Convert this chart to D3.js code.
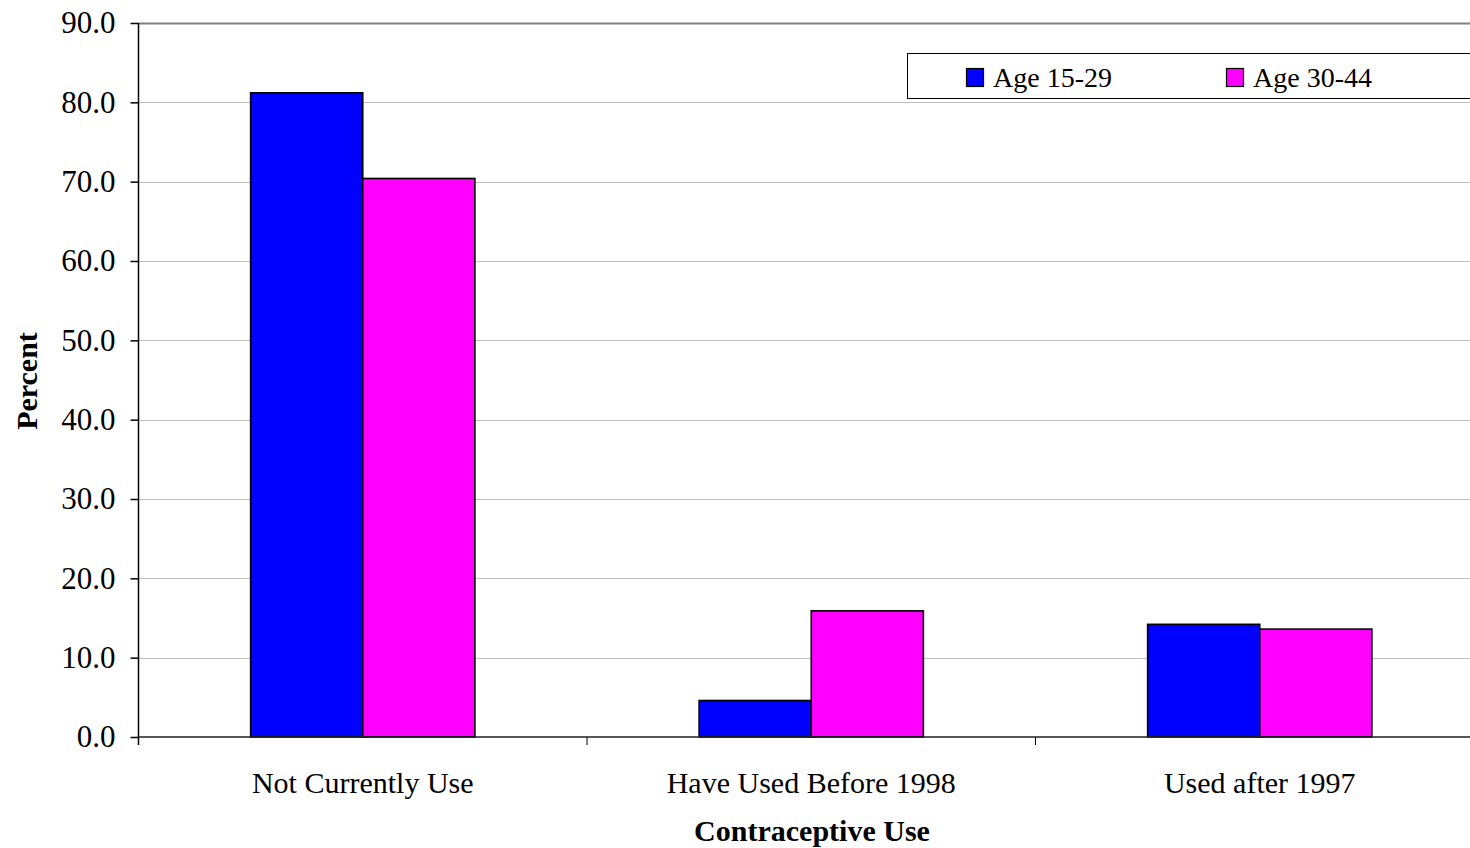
<!DOCTYPE html>
<html>
<head>
<meta charset="utf-8">
<script src="https://cdn.jsdelivr.net/npm/d3@7/dist/d3.min.js"></script>
<style>
  html, body { margin: 0; padding: 0; background: #ffffff; }
  svg { display: block; font-family: "Liberation Serif", "Times New Roman", serif; }
</style>
</head>
<body>
<svg id="chart" width="1470" height="848"></svg>
<script>
// Contraceptive use by age group (percent)
const categories = ["Not Currently Use", "Have Used Before 1998", "Used after 1997"];
const seriesNames = ["Age 15-29", "Age 30-44"];
const age15to29 = [81.2, 4.6, 14.2];
const age30to44 = [70.4, 15.9, 13.6];
const seriesColors = ["#0000ff", "#ff00ff"];
const yTicks = [0, 10, 20, 30, 40, 50, 60, 70, 80, 90];

const seriesValues = [age15to29, age30to44];

const svg = d3.select("#chart");

const plot = { left: 138.5, top: 23, bottom: 737 };
const bandWidth = 448.5;
const plotRight = plot.left + bandWidth * categories.length;

const x = d3.scaleBand()
  .domain(categories)
  .range([plot.left, plotRight])
  .padding(0);

// Each bar takes a quarter of its category band, centred as a pair
const xInner = d3.scaleBand()
  .domain(seriesNames)
  .range([0, x.bandwidth()])
  .paddingInner(0)
  .paddingOuter(1);

const y = d3.scaleLinear()
  .domain([0, 90])
  .range([plot.bottom, plot.top]);

// Horizontal gridlines
svg.append("g")
  .selectAll("line")
  .data(yTicks.filter(t => t > 0))
  .join("line")
  .attr("x1", plot.left)
  .attr("x2", plotRight)
  .attr("y1", d => Math.round(y(d)) + 0.5)
  .attr("y2", d => Math.round(y(d)) + 0.5)
  .attr("stroke", d => d === 90 ? "#808080" : "#c0c0c0")
  .attr("stroke-width", d => d === 90 ? 2 : 1);

// Bars
const groups = svg.append("g")
  .selectAll("g")
  .data(categories)
  .join("g")
  .attr("transform", d => `translate(${x(d)},0)`);

groups.selectAll("rect")
  .data((c, i) => seriesNames.map((s, j) => ({ series: s, value: seriesValues[j][i], color: seriesColors[j] })))
  .join("rect")
  .attr("x", d => xInner(d.series))
  .attr("y", d => y(d.value))
  .attr("width", xInner.bandwidth())
  .attr("height", d => y(0) - y(d.value))
  .attr("fill", d => d.color)
  .attr("stroke", "#000000")
  .attr("stroke-width", 1.6);

// Y axis
const yAxis = d3.axisLeft(y)
  .tickValues(yTicks)
  .tickFormat(d3.format(".1f"))
  .tickSize(8)
  .tickPadding(15);

const yAxisG = svg.append("g")
  .attr("transform", `translate(${plot.left},0)`)
  .call(yAxis);
yAxisG.select(".domain").attr("stroke", "#000").attr("stroke-width", 1.5)
  .attr("d", `M0,${plot.top}V${plot.bottom + 8}`);
yAxisG.selectAll(".tick line").attr("stroke", "#000").attr("stroke-width", 1.5);
yAxisG.selectAll(".tick text")
  .attr("font-family", "'Liberation Serif', 'Times New Roman', serif")
  .attr("font-size", 31)
  .attr("fill", "#000");

// X axis with boundary ticks between categories
svg.append("line")
  .attr("x1", plot.left).attr("x2", plotRight)
  .attr("y1", plot.bottom).attr("y2", plot.bottom)
  .attr("stroke", "#202020").attr("stroke-width", 1.5);

svg.append("g")
  .selectAll("line")
  .data(categories.slice(1))
  .join("line")
  .attr("x1", d => x(d)).attr("x2", d => x(d))
  .attr("y1", plot.bottom).attr("y2", plot.bottom + 8)
  .attr("stroke", "#000").attr("stroke-width", 1);

svg.append("g")
  .selectAll("text")
  .data(categories)
  .join("text")
  .attr("x", d => x(d) + x.bandwidth() / 2)
  .attr("y", 793)
  .attr("text-anchor", "middle")
  .attr("font-size", 30)
  .attr("fill", "#000")
  .text(d => d);

// Axis titles
svg.append("text")
  .attr("x", 812)
  .attr("y", 841)
  .attr("text-anchor", "middle")
  .attr("font-size", 30)
  .attr("font-weight", "bold")
  .text("Contraceptive Use");

svg.append("text")
  .attr("transform", "translate(37,381) rotate(-90)")
  .attr("text-anchor", "middle")
  .attr("font-size", 30)
  .attr("font-weight", "bold")
  .text("Percent");

// Legend
const legend = svg.append("g");
legend.append("rect")
  .attr("x", 907.5).attr("y", 53.5)
  .attr("width", 600).attr("height", 45)
  .attr("fill", "#ffffff")
  .attr("stroke", "#000").attr("stroke-width", 1);

const legendX = [966, 1226];
const items = legend.selectAll("g.item")
  .data(seriesNames)
  .join("g")
  .attr("class", "item")
  .attr("transform", (d, i) => `translate(${legendX[i]},0)`);

items.append("rect")
  .attr("x", 0.5).attr("y", 68.5)
  .attr("width", 17).attr("height", 18)
  .attr("fill", (d, i) => seriesColors[i])
  .attr("stroke", "#000").attr("stroke-width", 1.2);

items.append("text")
  .attr("x", 27)
  .attr("y", 87)
  .attr("font-size", 28)
  .attr("fill", "#000")
  .text(d => d);
</script>
</body>
</html>
